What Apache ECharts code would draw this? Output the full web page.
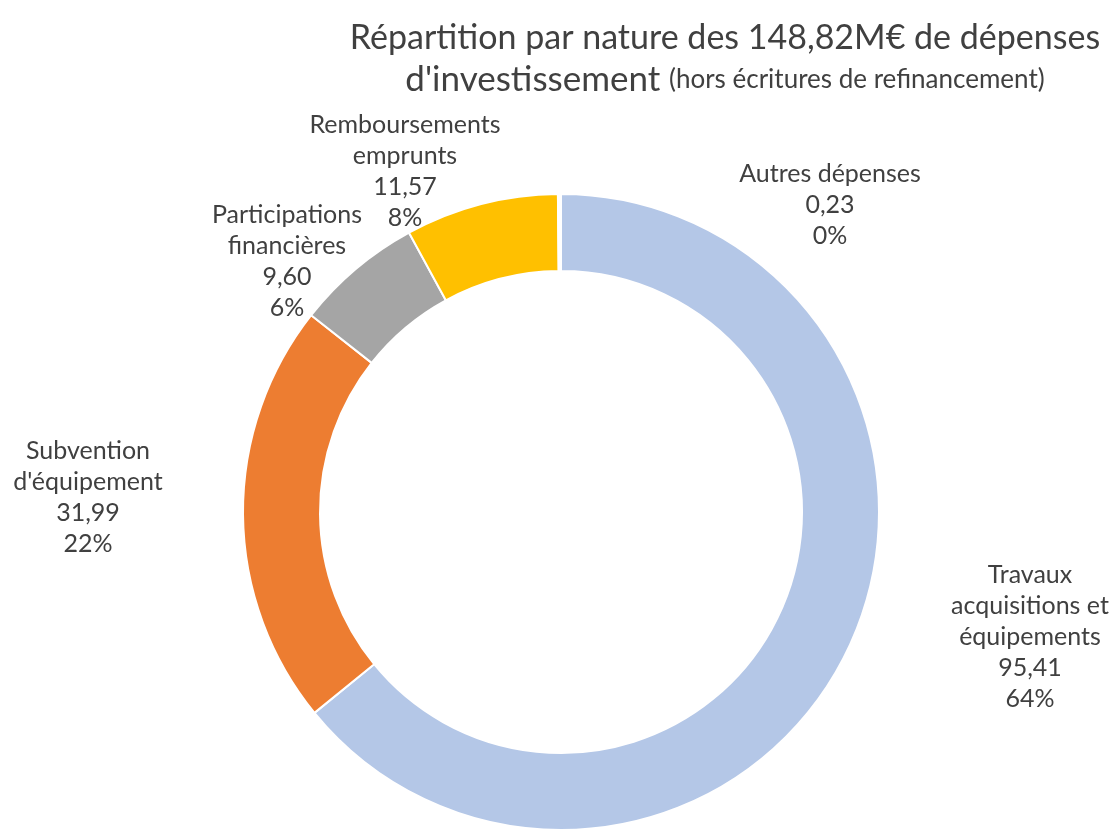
<!DOCTYPE html>
<html>
<head>
<meta charset="utf-8">
<script src="https://cdn.jsdelivr.net/npm/echarts@6/dist/echarts.min.js"></script>
<style>
  html, body { margin: 0; padding: 0; background: #fff; }
  #chart { width: 1113px; height: 832px; }
</style>
</head>
<body>
<div id="chart"></div>
<script>
// données (M€)
const categories = [
  'Travaux\nacquisitions et\néquipements',
  'Subvention\nd\'équipement',
  'Participations\nfinancières',
  'Remboursements\nemprunts',
  'Autres dépenses'
]
const values = [95.41, 31.99, 9.60, 11.57, 0.23]
const colors = ['#B4C7E7', '#ED7D31', '#A5A5A5', '#FFC000', '#FFFFFF']

// position des étiquettes (centre du bloc de texte)
const labelPos = [[1030, 637], [88, 497], [287, 261], [405, 171], [830, 205]]

const fmt = v => v.toFixed(2).replace('.', ',')

const chart = echarts.init(document.getElementById('chart'))
chart.setOption({
  backgroundColor: '#fff',
  title: {
    text: 'Répartition par nature des 148,82M€ de dépenses\n{a|d\'investissement} {b|(hors écritures de refinancement)}',
    left: 720,
    top: 12,
    textAlign: 'center',
    textStyle: {
      fontFamily: 'Lato',
      fontSize: 34,
      fontWeight: 'normal',
      color: '#404040',
      lineHeight: 42,
      rich: {
        a: { fontFamily: 'Lato', fontSize: 35, color: '#404040', lineHeight: 42 },
        b: { fontFamily: 'Lato', fontSize: 26, color: '#404040', lineHeight: 42 }
      }
    }
  },
  series: [{
    type: 'pie',
    center: [561, 512],
    radius: [241, 318],
    startAngle: 90,
    clockwise: true,
    avoidLabelOverlap: false,
    percentPrecision: 0,
    silent: true,
    data: categories.map((name, i) => ({
      name,
      value: values[i],
      itemStyle: { color: colors[i] }
    })),
    itemStyle: { borderColor: '#fff', borderWidth: 2 },
    label: {
      show: true,
      position: 'outside',
      fontFamily: 'Lato',
      fontSize: 25,
      lineHeight: 31,
      color: '#404040',
      align: 'center',
      formatter: p => p.name + '\n' + fmt(p.value) + '\n' + p.percent + '%'
    },
    labelLine: { show: false },
    labelLayout: params => ({
      x: labelPos[params.dataIndex][0],
      y: labelPos[params.dataIndex][1],
      align: 'center',
      verticalAlign: 'middle'
    })
  }]
})
</script>
</body>
</html>
